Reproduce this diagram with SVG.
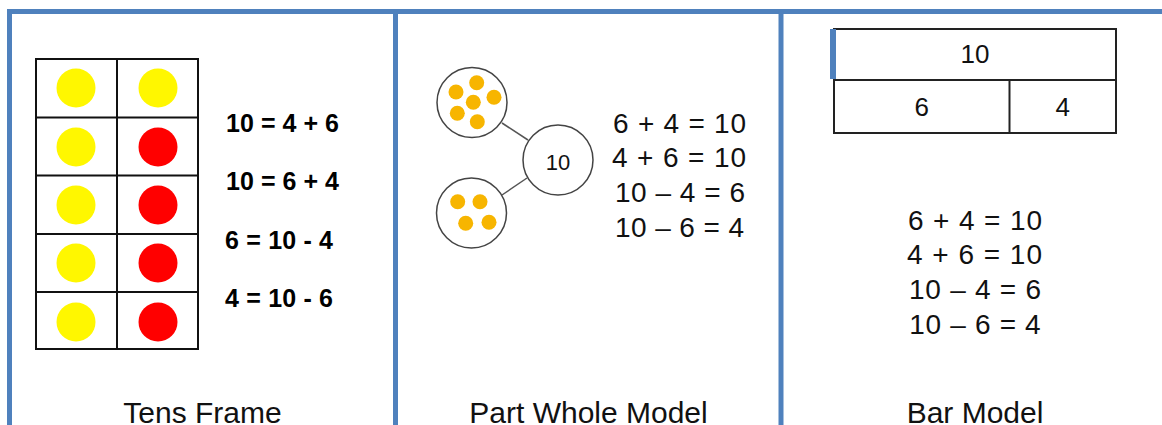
<svg xmlns="http://www.w3.org/2000/svg" width="1162" height="425" viewBox="0 0 1162 425">
<style>
.frame{stroke:#4F81BD;stroke-width:5;fill:none}
.grid{stroke:#111;stroke-width:2;fill:none}
.bar{stroke:#222;stroke-width:2;fill:none}
.ring{stroke:#444;stroke-width:1.5;fill:#fff}
.conn{stroke:#555;stroke-width:1.5}
.yel{fill:#FFF700}
.red{fill:#FF0000}
.dot{fill:#F7B500}
.bold{font-family:"Liberation Sans",Arial,sans-serif;font-weight:bold;font-size:25px;fill:#000}
.eq{font-family:"Liberation Sans",Arial,sans-serif;font-size:28px;fill:#111}
.lbl{font-family:"Liberation Sans",Arial,sans-serif;font-size:30px;fill:#111;text-anchor:middle}
.num{font-family:"Liberation Sans",Arial,sans-serif;font-size:26px;fill:#111;text-anchor:middle}
</style>
<rect width="1162" height="425" fill="#fff"/>
<g id="frame">
<path class="frame" d="M9.5 425 V11.5 H1162"/>
<line class="frame" x1="395.5" y1="11.5" x2="395.5" y2="425"/>
<line class="frame" x1="781" y1="11.5" x2="781" y2="425"/>
</g>
<g id="tens-frame">
<rect class="grid" x="36" y="59" width="162" height="290"/>
<line class="grid" x1="117" y1="59" x2="117" y2="349"/>
<line class="grid" x1="36" y1="117.5" x2="198" y2="117.5"/>
<line class="grid" x1="36" y1="175.5" x2="198" y2="175.5"/>
<line class="grid" x1="36" y1="234" x2="198" y2="234"/>
<line class="grid" x1="36" y1="292" x2="198" y2="292"/>
<circle class="yel" cx="76" cy="88" r="19.5"/>
<circle class="yel" cx="158" cy="88" r="19.5"/>
<circle class="yel" cx="76" cy="147" r="19.5"/>
<circle class="red" cx="158" cy="147" r="19.5"/>
<circle class="yel" cx="76" cy="205" r="19.5"/>
<circle class="red" cx="158" cy="205" r="19.5"/>
<circle class="yel" cx="76" cy="263" r="19.5"/>
<circle class="red" cx="158" cy="263" r="19.5"/>
<circle class="yel" cx="76" cy="322" r="19.5"/>
<circle class="red" cx="158" cy="322" r="19.5"/>
<text class="bold" x="226" y="132" textLength="113">10 = 4 + 6</text>
<text class="bold" x="226" y="190" textLength="113">10 = 6 + 4</text>
<text class="bold" x="225" y="249" textLength="108">6 = 10 - 4</text>
<text class="bold" x="225" y="307" textLength="108">4 = 10 - 6</text>
<text class="lbl" x="202.5" y="423">Tens Frame</text>
</g>
<g id="connectors">
<line class="conn" x1="502" y1="123" x2="528" y2="140"/>
<line class="conn" x1="502" y1="195" x2="527" y2="178"/>
</g>
<g id="part-top">
<circle class="ring" cx="472" cy="102.5" r="35"/>
<circle class="dot" cx="456" cy="92" r="7.5"/>
<circle class="dot" cx="476.7" cy="82.7" r="7.5"/>
<circle class="dot" cx="494" cy="97.3" r="7.5"/>
<circle class="dot" cx="473.3" cy="102.3" r="7.5"/>
<circle class="dot" cx="457.3" cy="113.3" r="7.5"/>
<circle class="dot" cx="477.3" cy="121.7" r="7.5"/>
</g>
<g id="part-bottom">
<circle class="ring" cx="471.5" cy="213" r="35"/>
<circle class="dot" cx="457.7" cy="201.7" r="7.5"/>
<circle class="dot" cx="480" cy="201.7" r="7.5"/>
<circle class="dot" cx="465.7" cy="223.3" r="7.5"/>
<circle class="dot" cx="489" cy="222.3" r="7.5"/>
</g>
<g id="whole">
<circle class="ring" cx="558" cy="160" r="35"/>
<text x="558" y="170" font-family="Liberation Sans, Arial, sans-serif" font-size="22" fill="#111" text-anchor="middle">10</text>
</g>
<g id="part-whole-text">
<text class="eq" x="613" y="133" textLength="133">6 + 4 = 10</text>
<text class="eq" x="612" y="167" textLength="134">4 + 6 = 10</text>
<text class="eq" x="615" y="202" textLength="130">10 – 4 = 6</text>
<text class="eq" x="615" y="237" textLength="129">10 – 6 = 4</text>
<text class="lbl" x="588.5" y="423">Part Whole Model</text>
</g>
<g id="bar-model">
<rect class="bar" x="834" y="29" width="282" height="51"/>
<rect class="bar" x="834" y="80" width="282" height="53"/>
<line class="bar" x1="1009.5" y1="80" x2="1009.5" y2="133"/>
<rect x="830" y="29" width="6" height="50" fill="#4F81BD"/>
<text class="num" x="975" y="63">10</text>
<text class="num" x="921.7" y="116">6</text>
<text class="num" x="1062.7" y="116">4</text>
<text class="eq" x="908" y="230" textLength="134">6 + 4 = 10</text>
<text class="eq" x="907" y="263.5" textLength="135">4 + 6 = 10</text>
<text class="eq" x="909" y="298.5" textLength="132">10 – 4 = 6</text>
<text class="eq" x="909.3" y="333.5" textLength="131.4">10 – 6 = 4</text>
<text class="lbl" x="975" y="423">Bar Model</text>
</g>
</svg>
